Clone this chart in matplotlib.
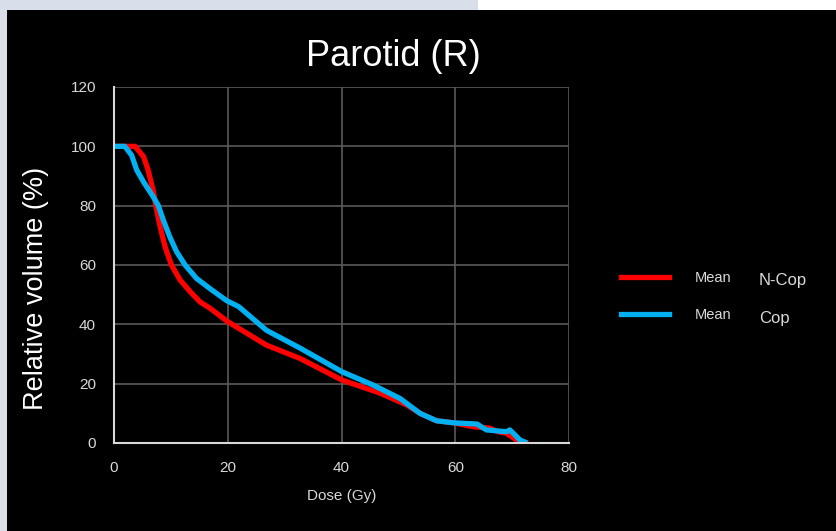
import matplotlib
matplotlib.use('Agg')

import matplotlib.pyplot as plt
from matplotlib.patches import Rectangle
from matplotlib.lines import Line2D

plt.rcParams['font.family'] = ['Liberation Sans', 'DejaVu Sans']

# dose-volume curves
dose_ncop = [0, 2.0, 3.7, 5.2, 6.0, 6.9, 7.5, 8.1, 9.0, 10.1, 11.6, 13.4, 15.1, 16.9,
             20.0, 26.8, 32.7, 40.1, 46.8, 51.5, 53.8, 56.7, 59.7, 63.2, 66.1, 67.5,
             69.0, 70.8, 72.8]
vol_ncop = [100, 100, 100, 96.5, 92, 85, 78.5, 73, 66, 60, 55, 51, 47.6, 45.4,
            40.9, 33, 28.5, 21.2, 16.8, 12.8, 10, 7.5, 6.8, 5.5, 5.0, 3.8,
            3.3, 1.0, 0]

dose_cop = [0, 1.9, 3.1, 4.0, 5.2, 6.9, 7.8, 8.7, 9.8, 11.0, 12.5, 14.5, 16.9,
            19.8, 21.9, 26.8, 32.7, 40.1, 45.6, 50.3, 53.8, 56.7, 59.7, 63.8,
            65.5, 69.0, 69.6, 71.4, 72.6]
vol_cop = [100, 100, 97, 92, 88, 83, 80, 75, 69.5, 64.5, 60, 55.5, 52,
           48, 46, 38, 32, 24, 19.5, 15, 10, 7.5, 6.8, 6.4,
           4.4, 3.8, 4.4, 1.0, 0]

x_ticks = [0, 20, 40, 60, 80]
y_ticks = [0, 20, 40, 60, 80, 100, 120]

fig = plt.figure(figsize=(8.36, 5.31), dpi=100)
fig.patch.set_facecolor('#d9dfea')
W, H = 836.0, 531.0
# white slide strip top right, black chart area
fig.patches.append(Rectangle((478 / W, 0), 1, 1, transform=fig.transFigure,
                             facecolor='white', edgecolor='none', zorder=-3))
fig.patches.append(Rectangle((7 / W, 0), 1, (H - 10) / H, transform=fig.transFigure,
                             facecolor='black', edgecolor='none', zorder=-2))

ax = fig.add_axes([114 / W, 88 / H, 455 / W, 356 / H])
ax.set_facecolor('black')

ax.plot(dose_ncop, vol_ncop, color='#ff0000', lw=3.8, solid_capstyle='butt')
ax.plot(dose_cop, vol_cop, color='#00b0f0', lw=3.8, solid_capstyle='butt')

ax.set_xlim(0, 80)
ax.set_ylim(0, 120)
ax.set_xticks(x_ticks)
ax.set_yticks(y_ticks)
ax.grid(True, color='#595959', lw=1.2)
ax.set_axisbelow(True)
for s in ['top', 'right']:
    ax.spines[s].set_visible(False)
for s in ['left', 'bottom']:
    ax.spines[s].set_color('#d9d9d9')
    ax.spines[s].set_linewidth(1.5)
ax.tick_params(axis='x', length=0, colors='#d9d9d9', labelsize=11, pad=13)
ax.tick_params(axis='y', length=0, colors='#d9d9d9', labelsize=11, pad=13)

fig.text(393 / W, 1 - 57 / H, 'Parotid (R)', color='white', fontsize=26,
         ha='center', va='center')
ax.set_xlabel('Dose (Gy)', color='#d9d9d9', fontsize=11, labelpad=10)
ax.set_ylabel('Relative volume (%)', color='white', fontsize=19.5)
ax.yaxis.set_label_coords(-0.143, 0.435)

# legend
handles = [Line2D([], [], color='#ff0000', lw=3.8),
           Line2D([], [], color='#00b0f0', lw=3.8)]
leg = fig.legend(handles, ['Mean', 'Mean'], loc='upper left',
                 bbox_to_anchor=(608 / W, 1 - 258 / H), frameon=False,
                 fontsize=10.5, labelcolor='#d9d9d9', handlelength=3.3,
                 handletextpad=1.75, labelspacing=1.6)
fig.text(759 / W, 1 - 280 / H, 'N-Cop', color='#d9d9d9', fontsize=12, va='center')
fig.text(759 / W, 1 - 318 / H, 'Cop', color='#d9d9d9', fontsize=12, va='center')

fig.savefig('out.png', dpi=100, facecolor=fig.get_facecolor())
